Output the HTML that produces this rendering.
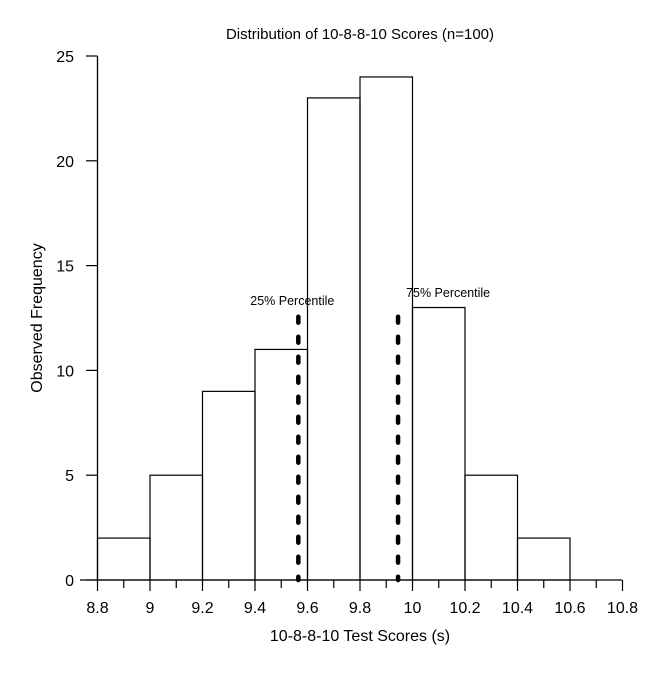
<!DOCTYPE html>
<html><head><meta charset="utf-8"><style>
body{margin:0;background:#fff}
svg{display:block;font-family:"Liberation Sans",Arial,sans-serif}
</style></head><body>
<svg id="chart" width="667" height="675" viewBox="0 0 667 675" xmlns="http://www.w3.org/2000/svg">
<text x="360" y="39" font-size="15" text-anchor="middle">Distribution of 10-8-8-10 Scores (n=100)</text>
<g id="bars"></g>
<g id="axes"></g>
<text x="360" y="641" font-size="16" text-anchor="middle">10-8-8-10 Test Scores (s)</text>
<text transform="translate(42,318) rotate(-90)" font-size="16" text-anchor="middle">Observed Frequency</text>
</svg>
<script>
const binStarts=[8.8,9.0,9.2,9.4,9.6,9.8,10.0,10.2,10.4];
const counts=[2,5,9,11,23,24,13,5,2];
const binWidth=0.2;
const xTicks=[8.8,9,9.2,9.4,9.6,9.8,10,10.2,10.4,10.6,10.8];
const xTickLabels=["8.8","9","9.2","9.4","9.6","9.8","10","10.2","10.4","10.6","10.8"];
const yTicks=[0,5,10,15,20,25];
const percentiles=[9.565,9.945];
const percentileLabels=["25% Percentile","75% Percentile"];
const percentileTop=12.8;

const NS="http://www.w3.org/2000/svg";
const X=v=>97.5+(v-8.8)/2*525;
const Y=v=>580-v/25*524;
function mk(tag,attrs,parent){const e=document.createElementNS(NS,tag);for(const k in attrs)e.setAttribute(k,attrs[k]);parent.appendChild(e);return e;}
const bars=document.getElementById('bars'),axes=document.getElementById('axes');
binStarts.forEach((b,i)=>{
  const r=mk('rect',{x:X(b),y:Y(counts[i]),width:X(b+binWidth)-X(b),height:Y(0)-Y(counts[i]),fill:'none',stroke:'#000','stroke-width':1.2},bars);
  
  
});
const xl=mk('line',{x1:80,y1:580,x2:622,y2:580,stroke:'#000','stroke-width':1.3},axes);


const yl=mk('line',{x1:97.5,y1:580,x2:97.5,y2:Y(25),stroke:'#000','stroke-width':1.3},axes);


xTicks.forEach((t,i)=>{
  mk('line',{x1:X(t),y1:580,x2:X(t),y2:591,stroke:'#000','stroke-width':1.2},axes);
  if(i<xTicks.length-1)mk('line',{x1:X(t+0.1),y1:580,x2:X(t+0.1),y2:588,stroke:'#000','stroke-width':1.2},axes);
  const tx=mk('text',{x:X(t),y:613,'font-size':16,'text-anchor':'middle'},axes);
  tx.textContent=xTickLabels[i];
  
  
});
yTicks.forEach((t,i)=>{
  mk('line',{x1:86,y1:Y(t),x2:97.5,y2:Y(t),stroke:'#000','stroke-width':1.2},axes);
  const tx=mk('text',{x:74,y:Y(t)+6,'font-size':16,'text-anchor':'end'},axes);
  tx.textContent=String(t);
  
  
});
percentiles.forEach((p,i)=>{
  const l=mk('line',{x1:X(p),y1:Y(percentileTop)+5,x2:X(p),y2:580,stroke:'#000','stroke-width':4.5,'stroke-linecap':'round','stroke-dasharray':'6 14'},axes);
  
  
  const tx=mk('text',{x:i?X(p)+8:X(p)-6,y:i?297:305,'font-size':12.5,'text-anchor':i?'start':'middle'},axes);
  tx.textContent=percentileLabels[i];
  
  
});
</script>
</body></html>
